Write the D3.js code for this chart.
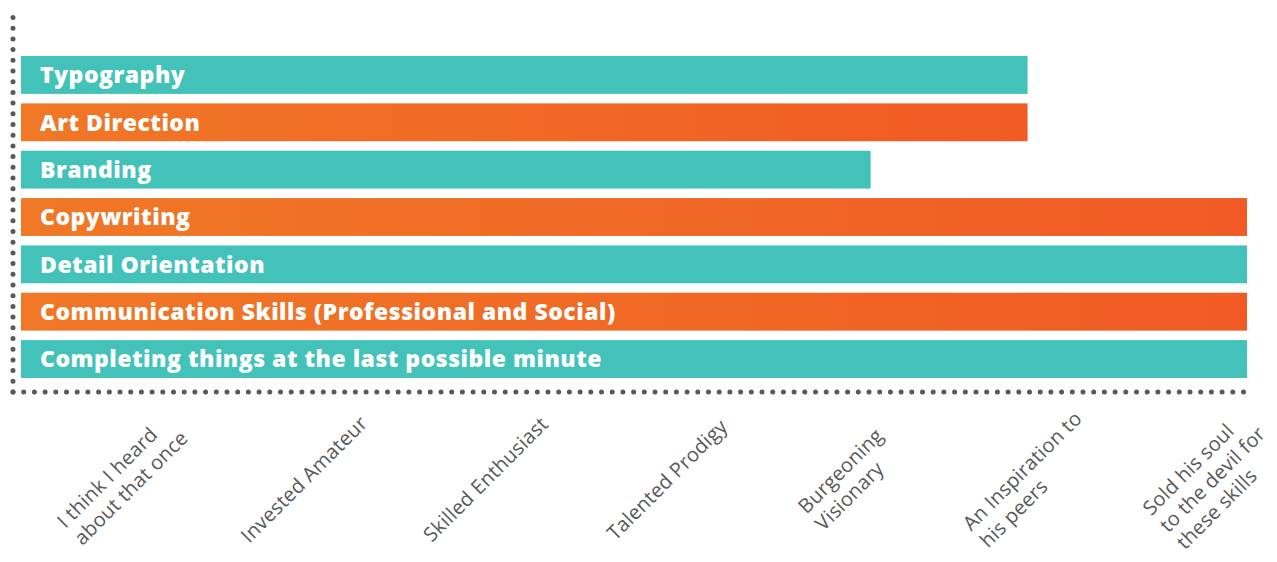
<!DOCTYPE html>
<html>
<head>
<meta charset="utf-8">
<script src="https://cdn.jsdelivr.net/npm/d3@7"></script>
<style>
  html, body { margin: 0; padding: 0; background: #fff; }
  svg { display: block; }
</style>
</head>
<body>
<svg id="chart"></svg>
<script>
const skills = [
    "Typography",
    "Art Direction",
    "Branding",
    "Copywriting",
    "Detail Orientation",
    "Communication Skills (Professional and Social)",
    "Completing things at the last possible minute"
];
const scores = [82.1, 82.1, 69.3, 100, 100, 100, 100];
const levelLabels = [
    ["I think I heard", "about that once"],
    ["Invested Amateur"],
    ["Skilled Enthusiast"],
    ["Talented Prodigy"],
    ["Burgeoning", "Visionary"],
    ["An Inspiration to", "his peers"],
    ["Sold his soul", "to the devil for", "these skills"]
];

const width = 1277, height = 562;
const teal = "#43c2ba";
const grey = "#58595b";

const svg = d3.select("#chart")
    .attr("width", width)
    .attr("height", height);

const defs = svg.append("defs");
const grad = defs.append("linearGradient")
    .attr("id", "orangeGrad")
    .attr("x1", "0%").attr("x2", "100%")
    .attr("y1", "0%").attr("y2", "0%");
grad.append("stop").attr("offset", "0%").attr("stop-color", "#f07826");
grad.append("stop").attr("offset", "100%").attr("stop-color", "#f15a24");

const x = d3.scaleLinear()
    .domain([0, 100])
    .range([21, 1247]);

const y = d3.scaleBand()
    .domain(skills)
    .range([51.3, 382.7])
    .paddingInner(0.2)
    .paddingOuter(0.1);

// level labels along the bottom (block centres)
const xLevel = d3.scalePoint()
    .domain(levelLabels.map(d => d.join(" ")))
    .range([122, 1212]);

const data = skills.map((s, i) => ({skill: s, score: scores[i], i}));

// bars
svg.append("g")
    .selectAll("rect")
    .data(data)
    .enter()
    .append("rect")
    .attr("x", x(0))
    .attr("y", d => y(d.skill))
    .attr("width", d => x(d.score) - x(0))
    .attr("height", y.bandwidth())
    .attr("fill", d => d.i % 2 === 0 ? teal : "url(#orangeGrad)");

svg.append("g")
    .selectAll("text")
    .data(data)
    .enter()
    .append("text")
    .attr("x", x(0) + 19)
    .attr("y", d => y(d.skill) + y.bandwidth() / 2)
    .attr("dy", "0.36em")
    .attr("fill", "#fff")
    .attr("font-family", "'Open Sans', sans-serif")
    .attr("font-weight", 800)
    .attr("font-size", 23)
    .attr("letter-spacing", 0.5)
    .text(d => d.skill);

// dotted axes
const dotted = g => g
    .attr("stroke", grey)
    .attr("stroke-width", 5)
    .attr("stroke-linecap", "round")
    .attr("stroke-dasharray", "0 10.7");

svg.append("line")
    .attr("x1", 13).attr("x2", 13)
    .attr("y1", 392).attr("y2", 11)
    .call(dotted);

svg.append("line")
    .attr("x1", 13).attr("x2", 1246)
    .attr("y1", 392).attr("y2", 392)
    .call(dotted);

const lvlG = svg.append("g")
    .selectAll("g")
    .data(levelLabels)
    .enter()
    .append("g")
    .attr("transform", d => `translate(${xLevel(d.join(" "))},479) rotate(-45)`);

const lvl = lvlG.append("text")
    .attr("fill", grey)
    .attr("font-family", "'Open Sans', sans-serif")
    .attr("font-size", 20)
    .attr("letter-spacing", 0.2);

lvl.selectAll("tspan")
    .data(d => d.map((line, j) => ({line, j})))
    .enter()
    .append("tspan")
    .attr("x", 0)
    .attr("y", d => d.j * 24)
    .text(d => d.line);

// centre each left-aligned block on its point
lvl.each(function() {
    const b = this.getBBox();
    d3.select(this).attr("transform", `translate(${-(b.x + b.width / 2)},${-(b.y + b.height / 2)})`);
});
</script>
</body>
</html>
